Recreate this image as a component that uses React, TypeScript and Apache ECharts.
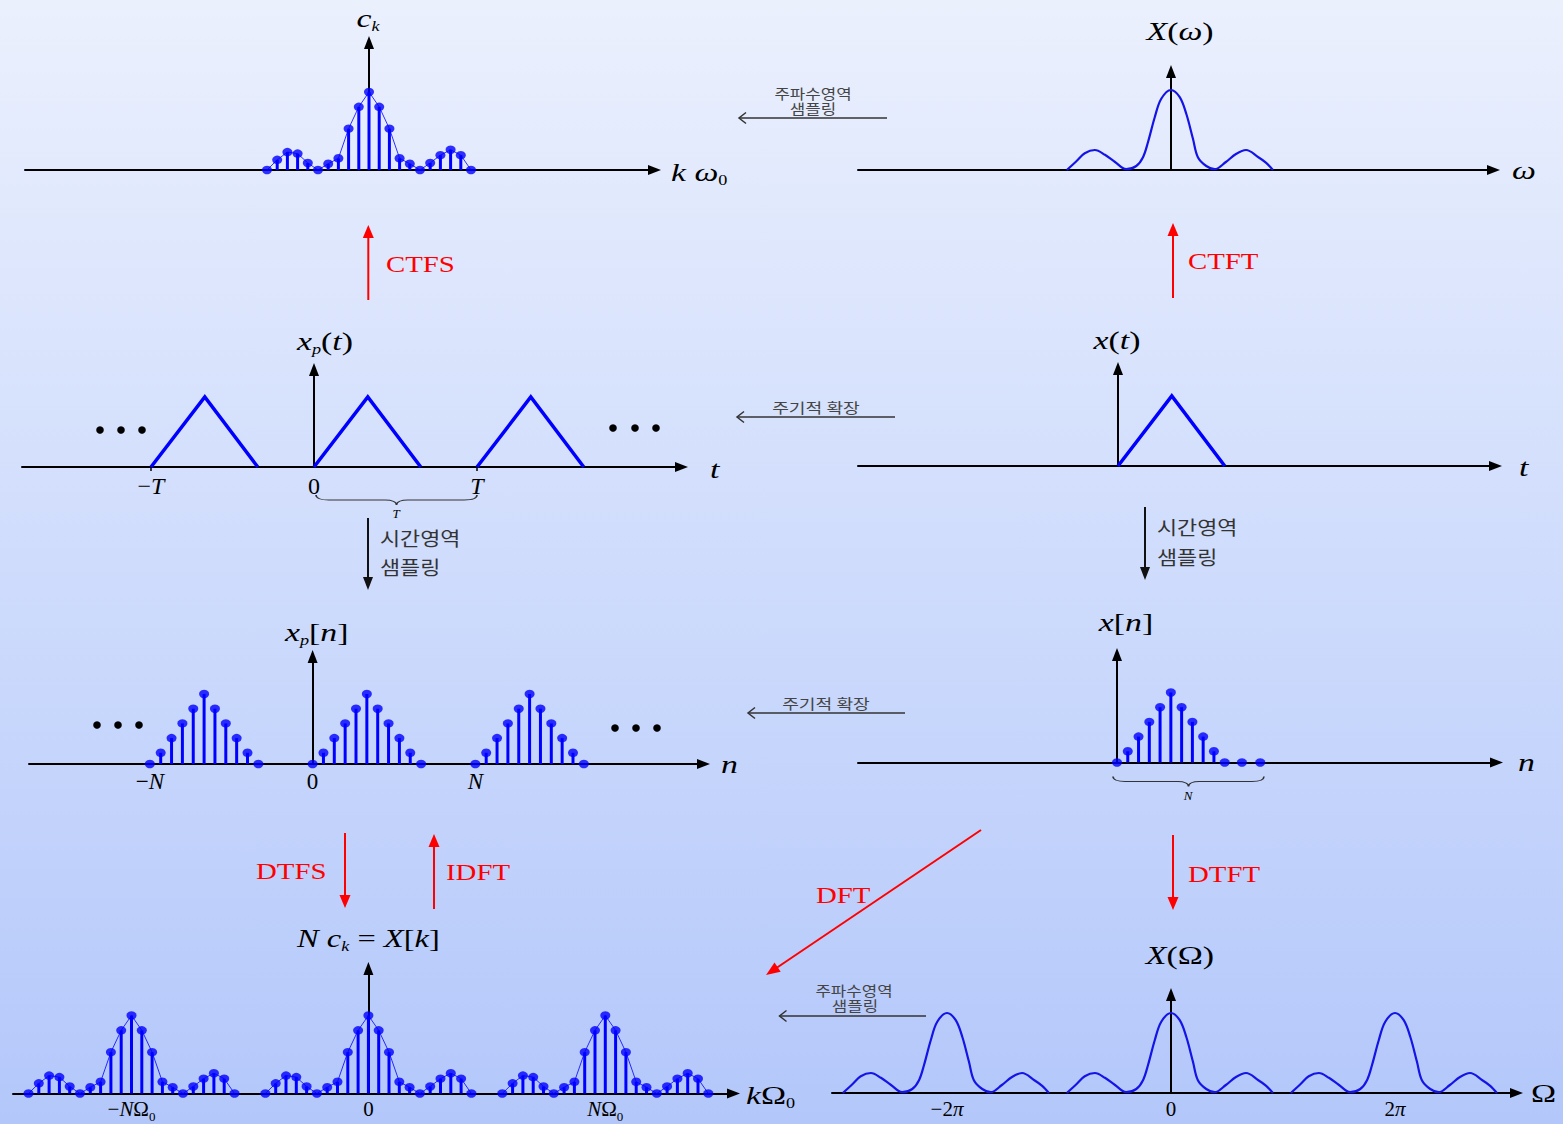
import React, { useEffect, useRef } from 'react';
import * as echarts from 'echarts';

// ---------------- data ----------------
// Fourier-series coefficients c_k (0..100 scale), k = -10..10
const ckK = [-10, -9, -8, -7, -6, -5, -4, -3, -2, -1, 0, 1, 2, 3, 4, 5, 6, 7, 8, 9, 10];
const ckValues = [0, 13, 23, 21, 9, 0, 8, 15, 53, 81, 100, 81, 53, 15, 8, 0, 9, 19, 26, 19, 0];
const xkCopyCenters = [-23, 0, 23]; // periodic copies of N c_k (k units)

// Continuous spectrum lobe X(ω) (offset in units of π, magnitude 0..100)
const lobeW = [-0.93, -0.845, -0.77, -0.68, -0.59, -0.5, -0.4, -0.31, -0.25, -0.205, -0.145, -0.087, 0,
  0.078, 0.137, 0.196, 0.24, 0.315, 0.39, 0.49, 0.58, 0.67, 0.78, 0.85, 0.91];
const lobeMag = [0, 11, 21, 25, 19, 10, 1, 5, 16, 35, 66, 89, 100, 91, 70, 39, 16, 5, 1, 10, 20, 25, 16, 9, 0];
const dtftCopyCenters = [-2, 0, 2]; // X(Ω) copies at -2π, 0, 2π

// Triangle pulse x(t) (t in units of T)
const triT = [0, 0.33, 0.655];
const triAmp = [0, 1, 0];
const periodCenters = [-1, 0, 1];

// Sampled triangle x[n]
const nIdx = [0, 1, 2, 3, 4, 5, 6, 7, 8, 9, 10];
const xnValues = [0, 16, 37, 58, 79, 100, 79, 58, 37, 16, 0];
const xnZeroIdx = [11.6, 13.3];
const xnZeroValues = [0, 0];
const periodN = [-15, 0, 15];

// Tick labels
const tTicks = [-1, 0, 1];
const tTickLabels = ['−T', '0', 'T'];
const nTicks = [-15, 0, 15];
const nTickLabels = ['−N', '0', 'N'];
const kTicks = [-23, 0, 23];
const kTickLabels = ['−NΩ_0', '0', 'NΩ_0'];
const wTicks = [-2, 0, 2];
const wTickLabels = ['−2π', '0', '2π'];

// ---------------- styling ----------------
const SERIF = 'Liberation Serif, serif';
const KR = 'Noto Sans CJK KR, sans-serif';
const BLUE = '#0000ff';
const CURVE = '#1414e6';
const RED = '#ff0000';
const INK = '#000000';

echarts.graphic.registerShape(
  'brace',
  echarts.graphic.extendPath(
    'M0,0 C0,4 3,6 8,6 L43,6 C47,6 50,8 50,12 C50,8 53,6 57,6 L92,6 C97,6 100,4 100,0',
    {}
  )
);

type Panel = { ox: number; oy: number; left: number; tip: number; top: number; sx: number; sy: number };
const HALF = 6.5;
const PANELS: Panel[] = [
  { ox: 369, oy: 170, left: 25, tip: 661, top: 36, sx: 10.2, sy: 0.78 }, // c_k
  { ox: 1171, oy: 170, left: 858, tip: 1500, top: 65, sx: 112, sy: 0.8 }, // X(ω)
  { ox: 314, oy: 467, left: 22, tip: 688, top: 363, sx: 163, sy: 70 }, // x_p(t)
  { ox: 1118, oy: 466, left: 858, tip: 1502, top: 362, sx: 163, sy: 70 }, // x(t)
  { ox: 312.6, oy: 764, left: 29, tip: 710, top: 650, sx: 10.85, sy: 0.7 }, // x_p[n]
  { ox: 1117, oy: 762.5, left: 858, tip: 1503, top: 648, sx: 10.77, sy: 0.7 }, // x[n]
  { ox: 368.4, oy: 1093.5, left: 13, tip: 740, top: 962, sx: 10.3, sy: 0.78 }, // N c_k
  { ox: 1171, oy: 1093, left: 832, tip: 1523, top: 988, sx: 112, sy: 0.8 }, // X(Ω)
];

const f = (size: number, italic = false, family = SERIF, bold = false) =>
  `${italic ? 'italic ' : ''}${bold ? 'bold ' : ''}${size}px ${family}`;

const richFor = (size: number, sub: number) => ({
  i: { font: f(size, true), fontFamily: SERIF, fontStyle: 'italic', fontSize: size, lineHeight: size + 6, fill: INK, color: INK },
  u: { font: f(size), fontFamily: SERIF, fontStyle: 'normal', fontSize: size, lineHeight: size + 6, fill: INK, color: INK },
  s: { font: f(sub, true), fontFamily: SERIF, fontStyle: 'italic', fontSize: sub, lineHeight: sub, verticalAlign: 'bottom', fill: INK, color: INK },
  su: { font: f(sub), fontFamily: SERIF, fontStyle: 'normal', fontSize: sub, lineHeight: sub, verticalAlign: 'bottom', fill: INK, color: INK },
});

const isIt = (c: string) => /[A-Za-zπω]/.test(c);
function toRich(s: string): string {
  let out = '';
  let i = 0;
  while (i < s.length) {
    if (s[i] === '_') {
      const c = s[i + 1];
      out += `{${/[0-9]/.test(c) ? 'su' : 's'}|${c}}`;
      i += 2;
      continue;
    }
    const cls = isIt(s[i]) ? 'i' : 'u';
    let chunk = '';
    let j = i;
    while (j < s.length && s[j] !== '_' && (isIt(s[j]) ? 'i' : 'u') === cls) {
      chunk += s[j];
      j++;
    }
    out += `{${cls}|${chunk}}`;
    i = j;
  }
  return out;
}

type TickCfg = { values: number[]; labels: string[]; size: number; margin: number; ticks?: number[] };
const TICKS: Record<number, TickCfg> = {
  2: { values: tTicks, labels: tTickLabels, size: 24, margin: 4, ticks: [-1, 1] },
  4: { values: nTicks, labels: nTickLabels, size: 23, margin: 3 },
  6: { values: kTicks, labels: kTickLabels, size: 21, margin: 2 },
  7: { values: wTicks, labels: wTickLabels, size: 21, margin: 2 },
};

const AXIS_LINE = {
  show: true,
  onZero: true,
  symbol: ['none', 'triangle'],
  symbolSize: [10, 13],
  lineStyle: { color: '#000', width: 2 },
};

const pairs = (xs: number[], ys: number[], shift = 0) => xs.map((x, i) => [x + shift, ys[i]]);

const stems = (gi: number, data: number[][]) => ({
  type: 'custom',
  xAxisIndex: gi,
  yAxisIndex: gi,
  data,
  z: 3,
  silent: true,
  renderItem: (_p: any, api: any) => {
    const x = api.value(0);
    const y = api.value(1);
    const a = api.coord([x, 0]);
    const b = api.coord([x, y]);
    return { type: 'line', shape: { x1: a[0], y1: a[1], x2: b[0], y2: b[1] }, style: { stroke: BLUE, lineWidth: 3 } };
  },
});
const dots = (gi: number, data: number[][]) => ({
  type: 'scatter',
  xAxisIndex: gi,
  yAxisIndex: gi,
  data,
  symbol: 'circle',
  symbolSize: [10, 8.5],
  itemStyle: { color: BLUE },
  z: 5,
  clip: false,
  silent: true,
});
const curve = (gi: number, data: number[][], width: number, color: string, smooth: number | boolean) => ({
  type: 'line',
  xAxisIndex: gi,
  yAxisIndex: gi,
  data,
  showSymbol: false,
  symbol: 'none',
  smooth,
  lineStyle: { color, width, join: 'miter' },
  z: 4,
  clip: false,
  silent: true,
});

function arrow(x1: number, y1: number, x2: number, y2: number, color: string, lw: number, hl: number, hw: number, open = false): any[] {
  const dx = x2 - x1;
  const dy = y2 - y1;
  const L = Math.hypot(dx, dy);
  const ux = dx / L;
  const uy = dy / L;
  const bx = x2 - ux * hl;
  const by = y2 - uy * hl;
  const px = (-uy * hw) / 2;
  const py = (ux * hw) / 2;
  if (open) {
    return [
      { type: 'line', z: 20, shape: { x1, y1, x2, y2 }, style: { stroke: color, lineWidth: lw } },
      { type: 'polyline', z: 20, shape: { points: [[bx + px, by + py], [x2, y2], [bx - px, by - py]] }, style: { stroke: color, lineWidth: lw, fill: 'none' } },
    ];
  }
  return [
    { type: 'line', z: 20, shape: { x1, y1, x2: bx + ux, y2: by + uy }, style: { stroke: color, lineWidth: lw } },
    { type: 'polygon', z: 20, shape: { points: [[x2, y2], [bx + px, by + py], [bx - px, by - py]] }, style: { fill: color } },
  ];
}

type TextOpts = { size?: number; align?: string; fill?: string; scaleX?: number; family?: string; italic?: boolean; rich?: any };
function gtext(x: number, y: number, text: string, o: TextOpts = {}) {
  const size = o.size ?? 20;
  const align = o.align ?? 'left';
  return {
    type: 'text',
    x,
    y,
    scaleX: o.scaleX ?? 1,
    z: 20,
    style: {
      text,
      font: f(size, !!o.italic, o.family ?? SERIF),
      fill: o.fill ?? INK,
      align,
      textAlign: align,
      verticalAlign: 'middle',
      textVerticalAlign: 'middle',
      rich: o.rich,
    },
  };
}
const mathLabel = (x: number, y: number, s: string, align = 'left', size = 26, scaleX = 1.3) =>
  gtext(x, y, toRich(s), { size, align, scaleX, rich: richFor(size, 14) });

function buildOption() {
  const grid = PANELS.map((p) => ({
    left: p.left,
    top: p.top + HALF,
    width: p.tip - HALF - p.left,
    height: p.oy - p.top - HALF,
    containLabel: false,
    outerBoundsMode: 'none',
  }));

  const xAxis = PANELS.map((p, i) => {
    const tl = TICKS[i];
    return {
      type: 'value',
      gridIndex: i,
      min: (p.left - p.ox) / p.sx,
      max: (p.tip - HALF - p.ox) / p.sx,
      axisLine: AXIS_LINE,
      splitLine: { show: false },
      axisTick:
        tl && tl.ticks
          ? { show: true, customValues: tl.ticks, length: 4, lineStyle: { color: '#000', width: 1.5 } }
          : { show: false },
      axisLabel: tl
        ? {
            show: true,
            customValues: tl.values,
            margin: tl.margin,
            hideOverlap: false,
            formatter: (v: number) => {
              const k = tl.values.findIndex((u) => Math.abs(u - v) < 1e-6);
              return k < 0 ? '' : toRich(tl.labels[k]);
            },
            rich: richFor(tl.size, 13),
          }
        : { show: false },
    };
  });

  const yAxis = PANELS.map((p, i) => ({
    type: 'value',
    gridIndex: i,
    min: 0,
    max: (p.oy - p.top - HALF) / p.sy,
    axisLine: AXIS_LINE,
    splitLine: { show: false },
    axisTick: { show: false },
    axisLabel: { show: false },
  }));

  const series: any[] = [];
  // c_k
  const ck = pairs(ckK, ckValues);
  series.push(stems(0, ck), curve(0, ck, 0.8, BLUE, false), dots(0, ck));
  // X(ω)
  series.push(curve(1, pairs(lobeW, lobeMag), 2.2, CURVE, 0.35));
  // x_p(t)
  periodCenters.forEach((c) => series.push(curve(2, pairs(triT, triAmp, c), 3.5, BLUE, false)));
  // x(t)
  series.push(curve(3, pairs(triT, triAmp), 3.5, BLUE, false));
  // x_p[n]
  periodN.forEach((c) => {
    const d = pairs(nIdx, xnValues, c);
    series.push(stems(4, d), dots(4, d));
  });
  // x[n]
  const xn = pairs(nIdx, xnValues);
  series.push(stems(5, xn), dots(5, xn), dots(5, pairs(xnZeroIdx, xnZeroValues)));
  // N c_k = X[k]
  xkCopyCenters.forEach((c) => {
    const d = pairs(ckK, ckValues, c);
    series.push(stems(6, d), curve(6, d, 0.8, BLUE, false), dots(6, d));
  });
  // X(Ω)
  dtftCopyCenters.forEach((c) => series.push(curve(7, pairs(lobeW, lobeMag, c), 2.2, CURVE, 0.35)));

  const graphic: any[] = [
    // red transform arrows
    ...arrow(368.3, 300, 368.3, 225, RED, 2, 13, 11),
    ...arrow(1173, 298, 1173, 223, RED, 2, 13, 11),
    ...arrow(345, 833, 345, 908, RED, 2, 13, 11),
    ...arrow(434, 909, 434, 834, RED, 2, 13, 11),
    ...arrow(1173, 835, 1173, 910, RED, 2, 13, 11),
    ...arrow(981, 830, 766, 975, RED, 2, 14, 11),
    // black sampling arrows
    ...arrow(368, 518, 368, 590, '#111', 2, 13, 10),
    ...arrow(1145, 507, 1145, 580, '#111', 2, 13, 10),
    // gray open arrows
    ...arrow(887, 118, 739, 118, '#333', 1.5, 7, 11, true),
    ...arrow(895, 417, 737, 417, '#333', 1.5, 7, 11, true),
    ...arrow(905, 713, 748, 713, '#333', 1.5, 7, 11, true),
    ...arrow(926, 1016, 779.5, 1016, '#333', 1.5, 7, 11, true),

    // red labels
    gtext(386, 264, 'CTFS', { size: 24, fill: RED, scaleX: 1.2 }),
    gtext(1188, 261, 'CTFT', { size: 24, fill: RED, scaleX: 1.2 }),
    gtext(256, 871, 'DTFS', { size: 24, fill: RED, scaleX: 1.2 }),
    gtext(446, 872, 'IDFT', { size: 24, fill: RED, scaleX: 1.2 }),
    gtext(1188, 874, 'DTFT', { size: 24, fill: RED, scaleX: 1.2 }),
    gtext(816, 895, 'DFT', { size: 24, fill: RED, scaleX: 1.2 }),

    // Korean annotations
    gtext(380, 538, '시간영역', { size: 19, family: KR, fill: '#333', scaleX: 1.15 }),
    gtext(380, 567, '샘플링', { size: 19, family: KR, fill: '#333', scaleX: 1.15 }),
    gtext(1157, 527, '시간영역', { size: 19, family: KR, fill: '#333', scaleX: 1.15 }),
    gtext(1157, 557, '샘플링', { size: 19, family: KR, fill: '#333', scaleX: 1.15 }),
    gtext(813, 93, '주파수영역', { size: 14, family: KR, fill: '#444', scaleX: 1.2, align: 'center' }),
    gtext(813, 108, '샘플링', { size: 14, family: KR, fill: '#444', scaleX: 1.2, align: 'center' }),
    gtext(816, 407, '주기적 확장', { size: 14, family: KR, fill: '#444', scaleX: 1.3, align: 'center' }),
    gtext(826, 703, '주기적 확장', { size: 14, family: KR, fill: '#444', scaleX: 1.3, align: 'center' }),
    gtext(854, 990, '주파수영역', { size: 14, family: KR, fill: '#444', scaleX: 1.2, align: 'center' }),
    gtext(855, 1005, '샘플링', { size: 14, family: KR, fill: '#444', scaleX: 1.2, align: 'center' }),

    // axis names
    mathLabel(368, 18, 'c_k', 'center'),
    mathLabel(671, 172, 'k ω_0'),
    mathLabel(1180, 31, 'X(ω)', 'center'),
    mathLabel(1512, 170, 'ω'),
    mathLabel(297, 341, 'x_p(t)'),
    mathLabel(710, 469, 't'),
    mathLabel(1117, 340, 'x(t)', 'center'),
    mathLabel(1519, 467, 't'),
    mathLabel(285, 632, 'x_p[n]'),
    mathLabel(721, 764, 'n'),
    mathLabel(1126, 622, 'x[n]', 'center'),
    mathLabel(1518, 762, 'n'),
    mathLabel(297, 938, 'N c_k = X[k]', 'left', 25, 1.3),
    mathLabel(746, 1095, 'kΩ_0'),
    mathLabel(1180, 955, 'X(Ω)', 'center'),
    mathLabel(1531, 1093, 'Ω'),

    // braces and their labels
    { type: 'brace', x: 316, y: 495, scaleX: 1.61, scaleY: 10 / 12, z: 20, style: { fill: 'none', stroke: '#333', lineWidth: 1.2, strokeNoScale: true } },
    { type: 'brace', x: 1113, y: 776.5, scaleX: 1.51, scaleY: 10 / 12, z: 20, style: { fill: 'none', stroke: '#333', lineWidth: 1.2, strokeNoScale: true } },
    gtext(396, 513, 'T', { size: 13, italic: true, align: 'center' }),
    gtext(1188, 795, 'N', { size: 13, italic: true, align: 'center' }),

    // ellipsis dots
    ...[
      [100, 430], [121, 430], [142, 430], [613, 428], [635, 428], [656, 428],
      [97, 725], [118, 725], [139, 725], [615, 728], [636, 728], [657, 728],
    ].map(([cx, cy]) => ({ type: 'circle', z: 20, shape: { cx, cy, r: 3.8 }, style: { fill: '#000' } })),
  ];

  return { animation: false, grid, xAxis, yAxis, series, graphic };
}

export default function App() {
  const ref = useRef<HTMLDivElement>(null);
  useEffect(() => {
    const chart = echarts.init(ref.current as HTMLDivElement, null, { renderer: 'svg', width: 1563, height: 1124 });
    chart.setOption(buildOption() as any);
    return () => chart.dispose();
  }, []);
  return (
    <div
      ref={ref}
      style={{
        position: 'absolute',
        left: 0,
        top: 0,
        width: 1563,
        height: 1124,
        background: 'linear-gradient(180deg, #ebf0fd 0%, #cfdcfc 50%, #b3c7fa 100%)',
      }}
    />
  );
}
